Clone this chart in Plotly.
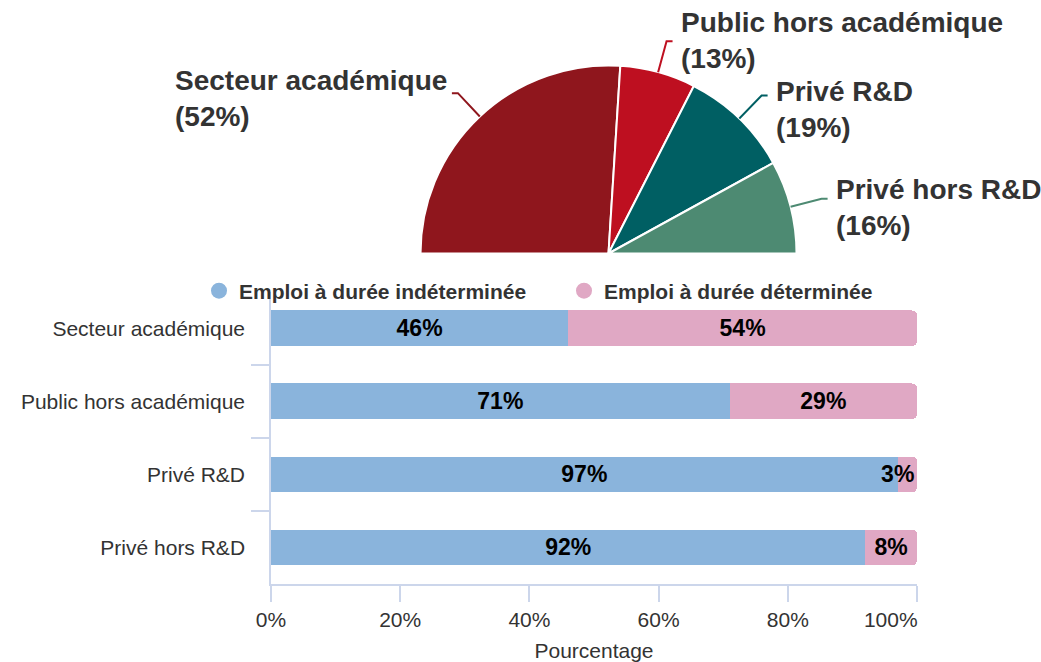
import math
import plotly.graph_objects as go

W, H = 1041, 662

# Répartition des docteurs par secteur d'emploi (%)
secteurs = ["Secteur académique", "Public hors académique", "Privé R&D", "Privé hors R&D"]
parts = [52, 13, 19, 16]
couleurs_secteurs = ["#8f161d", "#be0f20", "#005f63", "#4d8a72"]

# Type de contrat selon le secteur (%)
contrats = ["Emploi à durée indéterminée", "Emploi à durée déterminée"]
cdi = [46, 71, 97, 92]
cdd = [54, 29, 3, 8]
couleurs_contrats = ["#8ab4dc", "#e0a8c4"]

x_ticks = [0, 20, 40, 60, 80, 100]
# the last label is padded so it stays inside the plot's right edge
x_labels = [f"{t}%" for t in x_ticks[:-1]] + [f"{x_ticks[-1]}%" + "\u00a0" * 9]

FONT = "Liberation Sans, Arial, Helvetica, sans-serif"
TEXT = "#333333"
AXIS = "#ccd6eb"


def px(x):
    """pixel x -> paper x"""
    return x / W


def py(y):
    """pixel y (from top) -> paper y"""
    return 1 - y / H


# half-pie geometry (pixels)
CX, CY, R = 608.5, 253.5, 188
R_ELBOW = 220
# offsets of each sector label from its connector end
label_dx = [3, 0, 0, 0]
label_dy = [5, -1, 14, 9]

fig = go.Figure()

# Half pie: the four sectors plus an invisible slice of equal total
fig.add_trace(go.Pie(
    values=parts + [sum(parts)],
    labels=secteurs + [" "],
    sort=False,
    direction="clockwise",
    rotation=-90,
    textinfo="none",
    hoverinfo="skip",
    showlegend=False,
    marker=dict(
        colors=couleurs_secteurs + ["rgba(0,0,0,0)"],
        line=dict(color=["#ffffff"] * len(parts) + ["rgba(0,0,0,0)"],
                  width=[2] * len(parts) + [0]),
    ),
    domain=dict(x=[px(CX - R), px(CX + R)], y=[py(CY + R), py(CY - R)]),
))

# Sector labels with connectors at each slice's mid angle
total = sum(parts)
cum = 0
for name, v, col, dx, dy in zip(secteurs, parts, couleurs_secteurs, label_dx, label_dy):
    mid = math.radians(180 - (cum + v / 2) / total * 180)
    cum += v
    c, s = math.cos(mid), math.sin(mid)
    x0, y0 = CX + R * c, CY - R * s
    x1, y1 = CX + R_ELBOW * c, CY - R_ELBOW * s
    side = -1 if c < 0 else 1
    x2 = x1 + side * 6
    fig.add_shape(
        type="path", xref="paper", yref="paper",
        path=f"M {px(x0)} {py(y0)} L {px(x1)} {py(y1)} L {px(x2)} {py(y1)}",
        line=dict(color=col, width=2),
    )
    fig.add_annotation(
        xref="paper", yref="paper",
        x=px(x2 + side * 6 + dx), y=py(y1 + dy),
        text=f"{name}<br>({v}%)",
        showarrow=False,
        xanchor="right" if side < 0 else "left",
        yanchor="middle",
        align="left",
        font=dict(family=FONT, size=28, color=TEXT, weight="bold"),
    )


def bar_label(v):
    # narrow segments: shift the label left so it ends at the bar's edge
    return f"{v}%" + ("\u00a0" * 3 if v < 5 else "")


# Stacked horizontal bars
for name, vals, col in zip(contrats, [cdi, cdd], couleurs_contrats):
    fig.add_trace(go.Bar(
        y=secteurs, x=vals, orientation="h",
        name=name, legendgroup=name, showlegend=False,
        marker=dict(color=col, line=dict(width=0)),
        text=[bar_label(v) for v in vals],
        textposition="inside",
        insidetextanchor="middle",
        textangle=0,
        constraintext="none",
        cliponaxis=False,
        textfont=dict(family=FONT, size=23, color="#000000", weight="bold"),
        hovertemplate="%{y}: %{x}%<extra>" + name + "</extra>",
    ))

# Round legend markers
for name, col in zip(contrats, couleurs_contrats):
    fig.add_trace(go.Scatter(
        x=[None], y=[None], mode="markers",
        marker=dict(size=22, color=col, symbol="circle"),
        name=name, legendgroup=name, showlegend=True,
    ))

fig.update_layout(
    width=W, height=H,
    margin=dict(l=0, r=0, t=0, b=0),
    paper_bgcolor="white", plot_bgcolor="white",
    font=dict(family=FONT, size=21, color=TEXT),
    barmode="stack",
    bargap=0.51,
    barcornerradius=5,
    uniformtext=dict(minsize=23, mode="show"),
    legend=dict(
        orientation="h",
        x=px(564), xanchor="center",
        y=py(291), yanchor="middle",
        font=dict(family=FONT, size=21, color=TEXT, weight="bold"),
        entrywidth=320, entrywidthmode="pixels",
        bgcolor="rgba(0,0,0,0)",
    ),
    xaxis=dict(
        domain=[px(271), px(917)],
        range=[0, 100],
        tickvals=x_ticks, ticktext=x_labels,
        ticks="outside", ticklen=16, tickwidth=1.5, tickcolor=AXIS,
        showline=True, linecolor=AXIS, linewidth=1.5,
        showgrid=False, zeroline=False,
        tickfont=dict(family=FONT, size=21, color=TEXT),
        title=dict(text="Pourcentage", font=dict(family=FONT, size=21, color=TEXT)),
        automargin=False,
    ),
    yaxis=dict(
        domain=[py(584), py(292)],
        type="category",
        categoryarray=secteurs,
        range=[3.5, -0.497],
        tickson="boundaries",
        ticks="outside", ticklen=18, tickwidth=1.5, tickcolor=AXIS,
        showline=True, linecolor=AXIS, linewidth=1.5,
        showgrid=False, zeroline=False,
        tickfont=dict(family=FONT, size=21, color=TEXT),
        ticklabelstandoff=20,
        automargin=False,
    ),
)

fig.write_html("out.html")
